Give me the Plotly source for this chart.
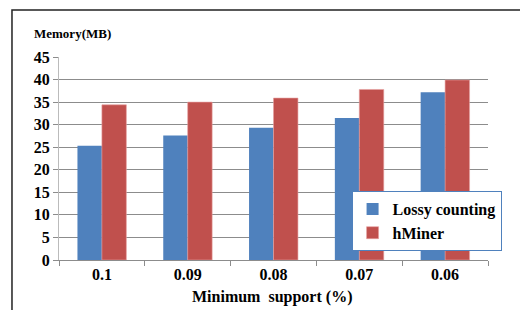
import plotly.graph_objects as go

categories = ["0.1", "0.09", "0.08", "0.07", "0.06"]
lossy = [25.3, 27.6, 29.3, 31.5, 37.2]
hminer = [34.4, 35.0, 35.9, 37.8, 39.9]
yticks = [0, 5, 10, 15, 20, 25, 30, 35, 40, 45]

FONT = "Liberation Serif"

fig = go.Figure()
fig.add_trace(go.Bar(x=categories, y=lossy, name="Lossy counting",
                     marker=dict(color="#4F81BD", line=dict(width=0))))
fig.add_trace(go.Bar(x=categories, y=hminer, name="hMiner",
                     marker=dict(color="#C0504D", line=dict(color="#E6A0A0", width=0.6))))

fig.update_layout(
    width=520, height=310,
    margin=dict(l=59, r=32, t=57, b=50),
    paper_bgcolor="white", plot_bgcolor="white",
    barmode="group", bargap=0.43, bargroupgap=0,
    font=dict(family=FONT, color="black"),
    showlegend=True,
    legend=dict(x=0.682, y=0.34, xanchor="left", yanchor="top",
                bgcolor="white", bordercolor="#4F81BD", borderwidth=1,
                font=dict(family=FONT, size=16, color="black", weight="bold"),
                itemwidth=30, tracegroupgap=7, traceorder="normal"),
    xaxis=dict(type="category", showgrid=False, showline=True, linecolor="#8c8c8c",
               ticks="outside", tickson="boundaries", ticklen=5, tickcolor="#8c8c8c",
               tickfont=dict(family=FONT, size=16, color="black", weight="bold")),
    yaxis=dict(range=[0, 45], tickvals=yticks, showgrid=True, gridcolor="#8c8c8c", gridwidth=1,
               showline=True, linecolor="#bbbbbb", ticks="outside", ticklen=5, tickcolor="#8c8c8c",
               zeroline=False,
               tickfont=dict(family=FONT, size=16, color="black", weight="bold")),
)

fig.add_annotation(text="Memory(MB)", xref="paper", yref="paper",
                   x=-0.063, y=1.118, xanchor="left", yanchor="middle", showarrow=False,
                   font=dict(family=FONT, size=13, color="black", weight="bold"))
fig.add_annotation(text="Minimum  support (%)", xref="paper", yref="paper",
                   x=0.4965, y=-0.182, xanchor="center", yanchor="middle", showarrow=False,
                   font=dict(family=FONT, size=16, color="black", weight="bold"))

fig.add_shape(type="rect", xref="paper", yref="paper",
              x0=-0.1096, y0=-0.5, x1=1.3, y1=1.2315,
              line=dict(color="#222222", width=1.5), fillcolor="rgba(0,0,0,0)", layer="above")

fig.write_html("out.html", config={"displayModeBar": False},
               post_script="document.body.style.margin='0';")
